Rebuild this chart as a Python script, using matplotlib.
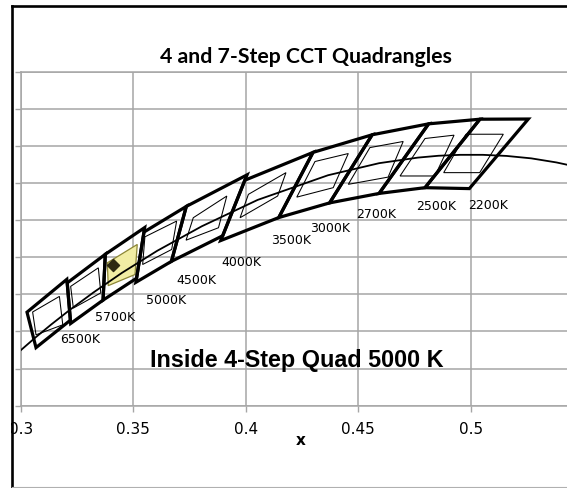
"""
ANSI-style CCT quadrangles on the CIE 1931 x-y diagram: 7-step quads (thick),
4-step quads inside them (thin), the Planckian locus, and one test point that
falls inside the 5000 K 4-step quad.
"""

import matplotlib.pyplot as plt
from matplotlib.lines import Line2D
from matplotlib.patches import Polygon, Rectangle

W_PX, H_PX = 567, 488

CCT_LABELS = ["6500K", "5700K", "5000K", "4500K", "4000K",
              "3500K", "3000K", "2700K", "2500K", "2200K"]

# 7-step quadrangles, corners: top-left, top-right, bottom-right, bottom-left
QUAD7_X = [
    [0.3028, 0.3205, 0.3221, 0.3068],
    [0.3207, 0.3376, 0.3366, 0.3222],
    [0.3376, 0.3551, 0.3515, 0.3366],
    [0.3548, 0.3736, 0.3670, 0.3512],
    [0.3736, 0.4006, 0.3898, 0.3670],
    [0.3996, 0.4299, 0.4147, 0.3889],
    [0.4299, 0.4562, 0.4373, 0.4147],
    [0.4562, 0.4813, 0.4593, 0.4373],
    [0.4813, 0.5041, 0.4797, 0.4593],
    [0.5041, 0.5256, 0.4994, 0.4797],
]
QUAD7_Y = [
    [0.3304, 0.3481, 0.3261, 0.3113],
    [0.3462, 0.3616, 0.3369, 0.3243],
    [0.3616, 0.3760, 0.3487, 0.3369],
    [0.3736, 0.3874, 0.3578, 0.3465],
    [0.3874, 0.4044, 0.3716, 0.3578],
    [0.4015, 0.4165, 0.3814, 0.3690],
    [0.4165, 0.4260, 0.3893, 0.3814],
    [0.4260, 0.4319, 0.3944, 0.3893],
    [0.4319, 0.4344, 0.3975, 0.3944],
    [0.4344, 0.4345, 0.3970, 0.3975],
]

# 4-step quadrangles (same corner order)
QUAD4_X = [
    [0.3053, 0.3172, 0.3187, 0.3068],
    [0.3222, 0.3345, 0.3356, 0.3234],
    [0.3385, 0.3518, 0.3508, 0.3389],
    [0.3552, 0.3693, 0.3671, 0.3542],
    [0.3767, 0.3916, 0.3879, 0.3735],
    [0.4012, 0.4179, 0.4142, 0.3975],
    [0.4308, 0.4456, 0.4389, 0.4227],
    [0.4552, 0.4700, 0.4633, 0.4456],
    [0.4797, 0.4926, 0.4841, 0.4686],
    [0.4979, 0.5145, 0.5040, 0.4880],
]
QUAD4_Y = [
    [0.3305, 0.3389, 0.3236, 0.3182],
    [0.3443, 0.3543, 0.3408, 0.3326],
    [0.3570, 0.3669, 0.3507, 0.3447],
    [0.3710, 0.3795, 0.3642, 0.3561],
    [0.3813, 0.3930, 0.3759, 0.3692],
    [0.3939, 0.4056, 0.3930, 0.3813],
    [0.4116, 0.4159, 0.3975, 0.3924],
    [0.4191, 0.4224, 0.4032, 0.3993],
    [0.4240, 0.4258, 0.4038, 0.4038],
    [0.4263, 0.4263, 0.4056, 0.4056],
]
HIGHLIGHT_INDEX = 2  # 5000K

# Planckian locus, 8000 K down to 1700 K
LOCUS_X = [0.2952, 0.3064, 0.3135, 0.3220, 0.3323, 0.3450, 0.3607, 0.3805,
           0.4053, 0.4366, 0.4593, 0.4765, 0.4857, 0.4953, 0.5054, 0.5160,
           0.5269, 0.5381, 0.5496, 0.5609]
LOCUS_Y = [0.3048, 0.3166, 0.3237, 0.3318, 0.3410, 0.3516, 0.3635, 0.3767,
           0.3909, 0.4042, 0.4107, 0.4137, 0.4147, 0.4152, 0.4152, 0.4146,
           0.4133, 0.4111, 0.4081, 0.4043]

TEST_X = [0.3412]
TEST_Y = [0.3557]

# where the CCT captions sit (data coordinates)
LABEL_X = [0.3264, 0.3421, 0.3644, 0.3782, 0.3979, 0.4201, 0.4375, 0.4579, 0.4846, 0.5077]
LABEL_Y = [0.3155, 0.3274, 0.3366, 0.3474, 0.3571, 0.3688, 0.3755, 0.3831, 0.3874, 0.3880]

X_TICKS = [0.3, 0.35, 0.4, 0.45, 0.5, 0.55, 0.6]
X_TICK_LABELS = ["0.3", "0.35", "0.4", "0.45", "0.5", "0.55", "0.6"]
Y_TICKS = [0.28, 0.30, 0.32, 0.34, 0.36, 0.38, 0.40, 0.42, 0.44, 0.46]

GRID = "#a6a6a6"


def px_box(left, top, right, bottom):
    """Pixel box -> figure fraction [l, b, w, h]."""
    return [left / W_PX, 1 - bottom / H_PX, (right - left) / W_PX, (bottom - top) / H_PX]


def main():
    fig = plt.figure(figsize=(W_PX / 100, H_PX / 100), dpi=100)
    fig.patch.set_facecolor("white")

    # plot area: x 0.3 at px 20.7, 0.6 at px 695.7 (off the right edge)
    ax = fig.add_axes(px_box(20.7, 71.7, 695.7, 405.7))
    ax.set_xlim(0.3, 0.6)
    ax.set_ylim(0.28, 0.46)
    ax.set_xticks(X_TICKS)
    ax.set_xticklabels(X_TICK_LABELS)
    ax.set_yticks(Y_TICKS)
    ax.tick_params(axis="both", direction="out", length=4.5, width=1.0, color=GRID,
                   labelsize=11, pad=7, labelleft=False)
    ax.grid(True, color=GRID, lw=1.1)
    ax.set_axisbelow(True)
    for sp in ax.spines.values():
        sp.set_color(GRID)
        sp.set_linewidth(1.1)

    ax.plot(LOCUS_X, LOCUS_Y, color="black", lw=1.3, zorder=3)

    for i in range(len(CCT_LABELS)):
        outer = list(zip(QUAD7_X[i], QUAD7_Y[i]))
        ax.add_patch(Polygon(outer, closed=True, fill=False, ec="black",
                             lw=2.3, joinstyle="miter", zorder=4))
        inner = list(zip(QUAD4_X[i], QUAD4_Y[i]))
        if i == HIGHLIGHT_INDEX:
            ax.add_patch(Polygon(inner, closed=True, fc="#f1eda4", ec="#8c8636",
                                 lw=0.9, zorder=2.5))
        else:
            ax.add_patch(Polygon(inner, closed=True, fill=False, ec="black",
                                 lw=0.75, zorder=3.5))
        ax.text(LABEL_X[i], LABEL_Y[i], CCT_LABELS[i], fontsize=9,
                ha="center", va="center", zorder=5)

    ax.scatter(TEST_X, TEST_Y, marker="D", s=38, color="#2e2a12", zorder=6)

    fig.text(306 / W_PX, 1 - 63.3 / H_PX, "4 and 7-Step CCT Quadrangles",
             ha="center", va="baseline", fontsize=15.3, fontweight="bold",
             family="Lato")
    fig.text(296.7 / W_PX, 1 - 367.3 / H_PX, "Inside 4-Step Quad 5000 K",
             ha="center", va="baseline", fontsize=16.8, fontweight="bold",
             family="Liberation Sans")
    fig.text(301 / W_PX, 1 - 445 / H_PX, "x", ha="center", va="baseline",
             fontsize=11, fontweight="bold")

    # cropped frame: white margin left/top, thick black border, thin grey bottom
    fig.patches.append(Rectangle((0, 0), 11.2 / W_PX, 1, transform=fig.transFigure,
                                 fc="white", ec="none", zorder=10))
    fig.patches.append(Rectangle((0, 1 - 5 / H_PX), 1, 5 / H_PX, transform=fig.transFigure,
                                 fc="white", ec="none", zorder=10))
    fig.add_artist(Line2D([12.3 / W_PX, 12.3 / W_PX], [0, 1 - 6.2 / H_PX],
                          transform=fig.transFigure, color="black", lw=1.9,
                          solid_capstyle="projecting", zorder=11))
    fig.add_artist(Line2D([12.3 / W_PX, 1], [1 - 6.2 / H_PX, 1 - 6.2 / H_PX],
                          transform=fig.transFigure, color="black", lw=1.9,
                          solid_capstyle="projecting", zorder=11))
    fig.add_artist(Line2D([12.3 / W_PX, 1], [1.3 / H_PX, 1.3 / H_PX],
                          transform=fig.transFigure, color="#b0b0b0", lw=0.8,
                          zorder=11))

    fig.savefig("out.png", dpi=100, facecolor="white")
    plt.close(fig)


if __name__ == "__main__":
    main()
